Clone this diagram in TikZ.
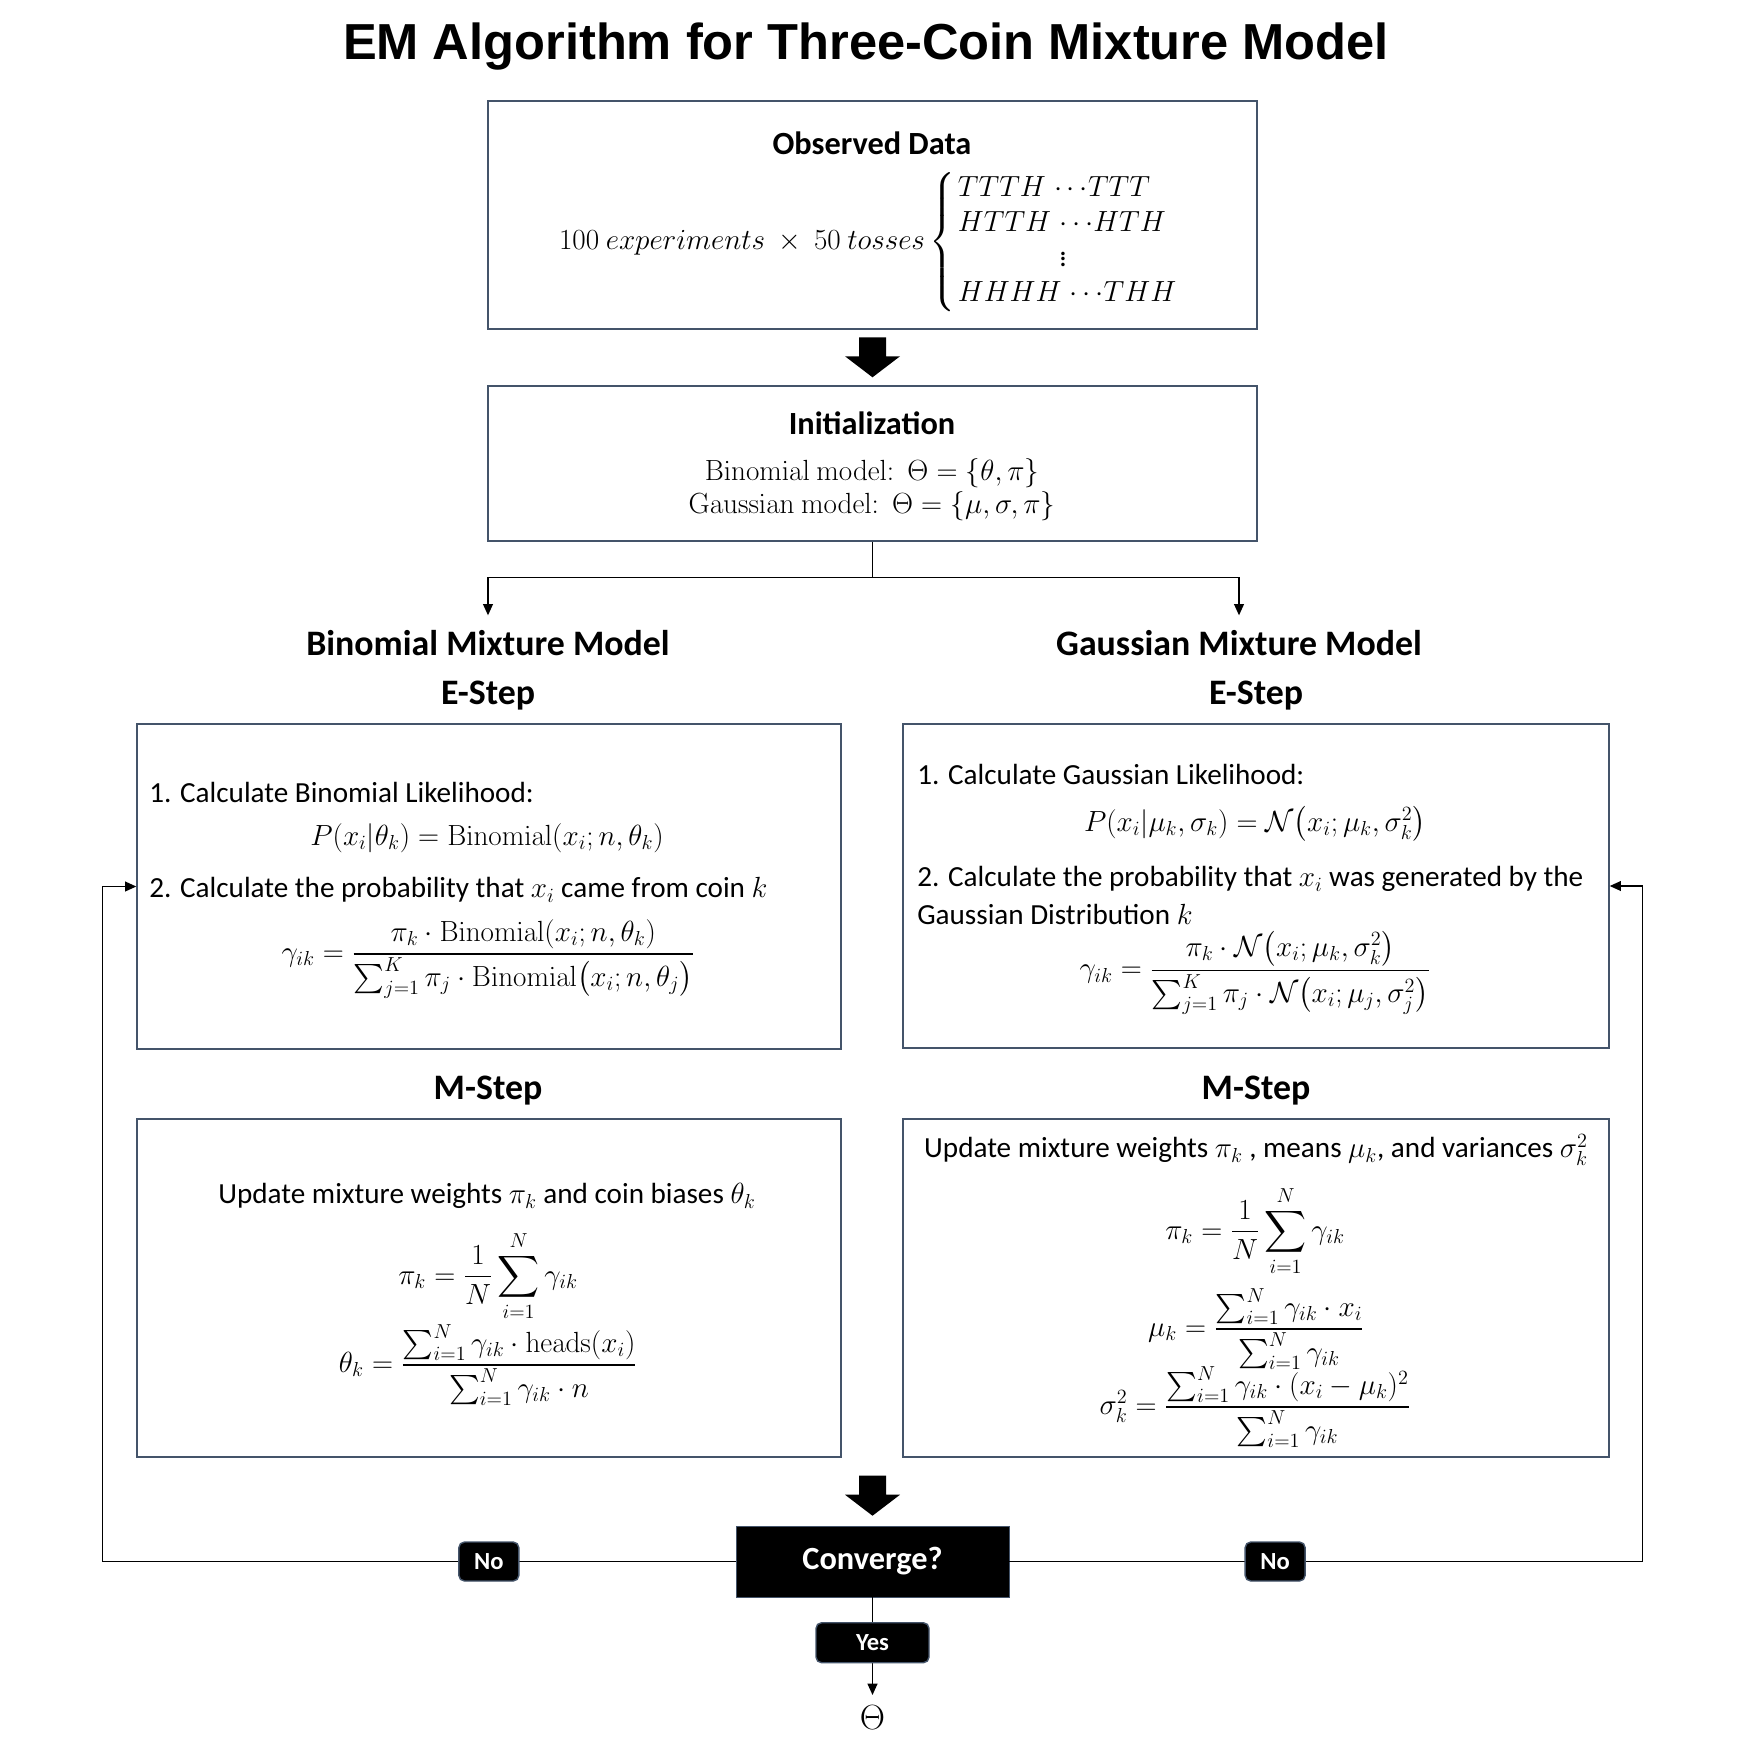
\documentclass[tikz,border=0pt]{standalone}
\usepackage{amsmath,amssymb}
\usepackage[no-math]{fontspec}
\setmainfont{Carlito}
\newfontfamily\titlefont{Liberation Sans}
\usetikzlibrary{arrows.meta,positioning,calc}
\definecolor{boxLine}{RGB}{68,84,106}
\newcommand{\bodysize}{\fontsize{20.74}{25}\selectfont}
% filled block arrow, tip at #1
\newcommand{\blockarrow}[1]{\fill #1 -- ++(-27.5,-21) -- ++(14,0) -- ++(0,-19) -- ++(27,0) -- ++(0,19) -- ++(14,0) -- cycle;}

\begin{document}
\begin{tikzpicture}[x=0.25mm, y=-0.25mm,
    box/.style={draw=boxLine, line width=1pt, inner sep=0pt},
    ttl/.style={font=\fontsize{23}{28}\selectfont\bfseries},
    hd/.style={font=\fontsize{25.5}{30}\selectfont\bfseries},
    txt/.style={font=\bodysize, inner sep=0pt},
    tag/.style={fill=black, draw=boxLine, text=white, rounded corners=4pt,
                font=\fontsize{17.5}{20}\selectfont\bfseries, minimum width=15mm, minimum height=9.75mm},
    arr/.style={-{Triangle[width=7pt,length=8pt]}, line width=1pt},
    lin/.style={line width=1pt}
  ]
  \useasboundingbox (0,0) rectangle (1742,1744);
  % Title
  \node[font=\titlefont\fontsize{36}{40}\selectfont\bfseries, anchor=base] (title) at (866,59)
    {EM Algorithm for Three-Coin Mixture Model};
  % Observed data
  \node[box, minimum width=192.25mm, minimum height=57mm] (obs) at (872.5,215) {};
  \node[ttl] (obstl) at (872,143) {Observed Data};
  \node[txt] (toss) at (872,242)
    {$100\ experiments \ \times\ 50\ tosses\left\{\!\begin{array}{l}
      TTTH\;{\cdots}TTT\\ HTTH\;{\cdots}HTH\\ \hphantom{HTTH\;}\vdots\\ HHHH\;{\cdots}THH
     \end{array}\right.$};
  % Initialization
  \node[box, minimum width=192.25mm, minimum height=38.75mm] (init) at (872.5,463.5) {};
  \node[ttl] (inittl) at (872,423) {Initialization};
  \node[txt] (binpar) at (872,473) {$\mathrm{Binomial\ model{:}}\ \ \Theta = \{\theta, \pi\}$};
  \node[txt] (gaupar) at (872,506) {$\mathrm{Gaussian\ model{:}}\ \ \Theta = \{\mu, \sigma, \pi\}$};
  \blockarrow{($(init.north)+(0,-8)$)}
  % Split into the two models
  \draw[lin] (init.south) -- ++(0,36) coordinate (split);
  \node[hd] (binhd) at (488,643) {Binomial Mixture Model};
  \node[hd] (gauhd) at (1239,643) {Gaussian Mixture Model};
  \draw[arr, shorten >=2.5mm] (split) -| (binhd.north);
  \draw[arr, shorten >=2.5mm] (split) -| (gauhd.north);
  % E-Step
  \node[hd] (ebinhd) at (488,696) {E-Step};
  \node[hd] (egauhd) at (1256,696) {E-Step};
  \node[box, minimum width=176mm, minimum height=81.25mm] (ebin) at (489,886.5) {};
  \node[box, minimum width=176.5mm, minimum height=81mm] (egau) at (1256,886) {};
  \node[txt, anchor=west] (b1) at (149,792) {1. Calculate Binomial Likelihood:};
  \node[txt] (blik) at (487,838) {$P(x_i|\theta_k) = \mathrm{Binomial}(x_i; n, \theta_k)$};
  \node[txt, anchor=west] (b2) at (149,890) {2. Calculate the probability that $x_i$ came from coin $k$};
  \node[txt] (bgam) at (488,959)
    {$\gamma_{ik} = \dfrac{\pi_k \cdot \mathrm{Binomial}(x_i; n, \theta_k)}{\sum_{j=1}^{K} \pi_j \cdot \mathrm{Binomial}\big(x_i; n, \theta_j\big)}$};
  \node[txt, anchor=west] (g1) at (917,774) {1. Calculate Gaussian Likelihood:};
  \node[txt] (glik) at (1255,824) {$P(x_i|\mu_k,\sigma_k) = \mathcal{N}\big(x_i;\mu_k,\sigma_k^2\big)$};
  \node[txt, anchor=west] (g2) at (917,879) {2. Calculate the probability that $x_i$ was generated by the};
  \node[txt, anchor=west] (g3) at (917,914) {Gaussian Distribution $k$};
  \node[txt] (ggam) at (1255,973)
    {$\gamma_{ik} = \dfrac{\pi_k\cdot\mathcal{N}\big(x_i;\mu_k,\sigma_k^2\big)}{\sum_{j=1}^{K}\pi_j\cdot\mathcal{N}\big(x_i;\mu_j,\sigma_j^2\big)}$};
  % M-Step
  \node[hd] (mbinhd) at (488,1091) {M-Step};
  \node[hd] (mgauhd) at (1256,1091) {M-Step};
  \node[box, minimum width=176mm, minimum height=84.5mm] (mbin) at (489,1288) {};
  \node[box, minimum width=176.5mm, minimum height=84.5mm] (mgau) at (1256,1288) {};
  \node[txt] (bupd) at (487,1196) {Update mixture weights $\pi_k$ and coin biases $\theta_k$};
  \node[txt] (bpi) at (488,1276) {$\displaystyle \pi_k = \frac{1}{N}\sum_{i=1}^{N}\gamma_{ik}$};
  \node[txt] (bth) at (488,1365)
    {$\theta_k = \dfrac{\sum_{i=1}^{N}\gamma_{ik}\cdot\mathrm{heads}(x_i)}{\sum_{i=1}^{N}\gamma_{ik}\cdot n}$};
  \node[txt] (gupd) at (1256,1150) {Update mixture weights $\pi_k$ , means $\mu_k$, and variances $\sigma_k^2$};
  \node[txt] (gpi) at (1255,1231) {$\displaystyle \pi_k = \frac{1}{N}\sum_{i=1}^{N}\gamma_{ik}$};
  \node[txt] (gmu) at (1256,1329) {$\mu_k = \dfrac{\sum_{i=1}^{N}\gamma_{ik}\cdot x_i}{\sum_{i=1}^{N}\gamma_{ik}}$};
  \node[txt] (gsig) at (1255,1407)
    {$\sigma_k^2 = \dfrac{\sum_{i=1}^{N}\gamma_{ik}\cdot(x_i-\mu_k)^2}{\sum_{i=1}^{N}\gamma_{ik}}$};
  % Convergence check
  \node[fill=black, draw=boxLine, minimum width=68.25mm, minimum height=17.75mm, text=white,
        font=\fontsize{23}{28}\selectfont\bfseries] (conv) at (872.5,1561.5) {Converge?};
  \blockarrow{($(conv.north)+(0,-10)$)}
  \draw[arr] (conv.west) -- node[tag, pos=0.39] (nol) {No} ++(-633,0) |- (ebin.west);
  \draw[arr] (conv.east) -- node[tag, pos=0.42] (nor) {No} ++(633,0) |- (egau.east);
  \node[font=\fontsize{24.88}{30}\selectfont, inner sep=2pt] (theta) at (872.5,1718) {$\Theta$};
  \draw[arr, shorten >=2mm] (conv.south) -- node[tag, pos=0.43, minimum width=28.25mm, minimum height=10mm] (yes) {Yes} (theta.north);
\end{tikzpicture}
\end{document}
